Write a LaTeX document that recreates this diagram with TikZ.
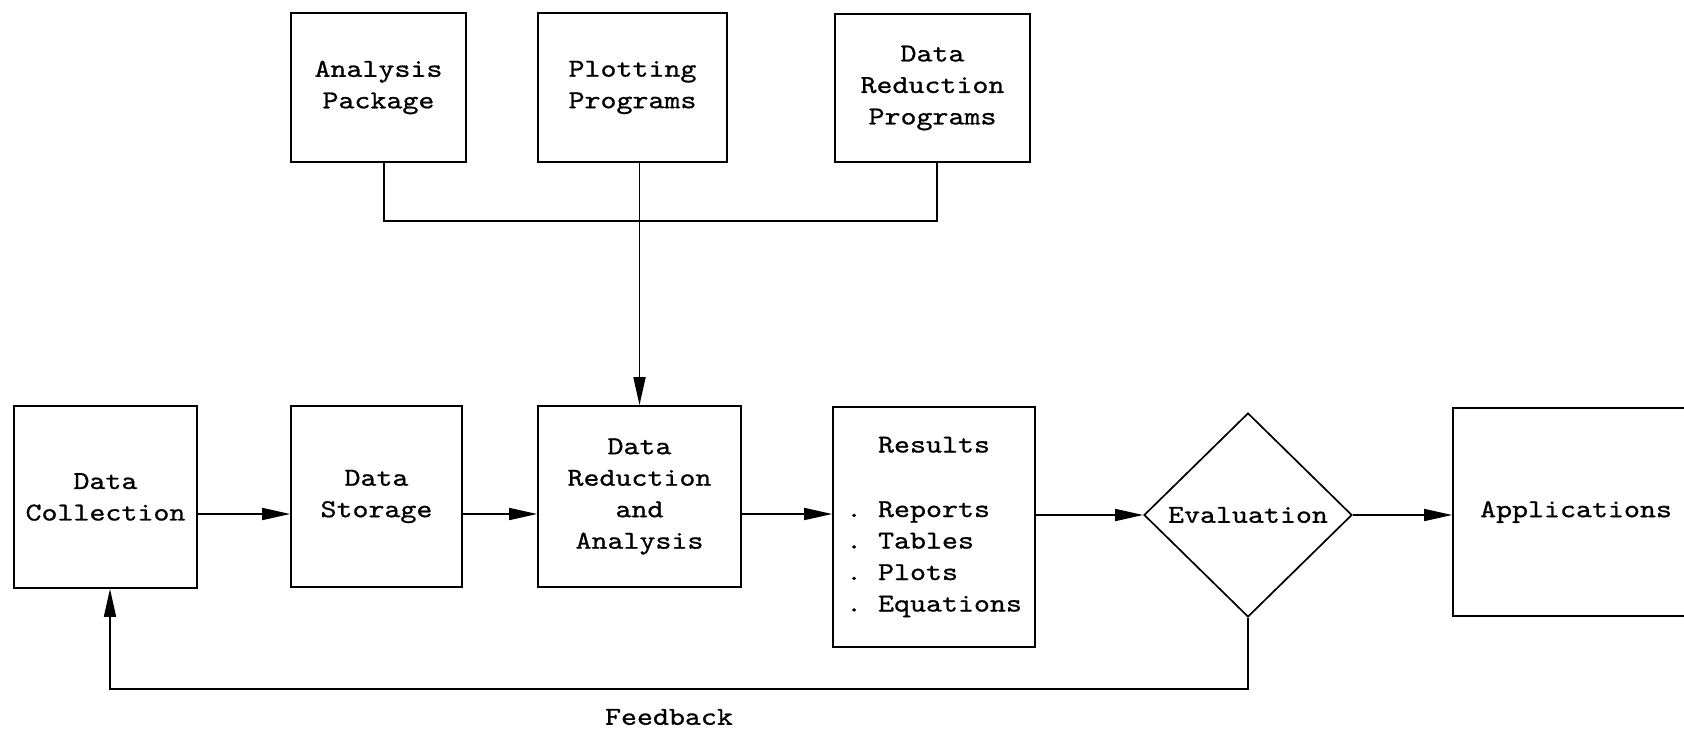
\documentclass[tikz,border=0pt]{standalone}
\usepackage{fontspec}
\newfontfamily\typer{lmmono10-regular.otf}[FakeStretch=1.18,FakeBold=0.8]
\usetikzlibrary{shapes.geometric,arrows.meta}

\begin{document}
\begin{tikzpicture}[x=1pt,y=-1pt,
  every node/.style={font=\typer\fontsize{25.8}{31.5}\selectfont},
  box/.style={draw, line width=1.7pt, inner sep=0pt, align=center},
  link/.style={line width=1.7pt},
  flow/.style={link, -{Triangle[length=28pt,width=12pt]}},
]
\useasboundingbox (0,0) rectangle (1684,730);
\clip (0,0) rectangle (1684,730);

% program library
\node[box, minimum width=175pt, minimum height=149pt] (ap)  at (378.5,87.5) {Analysis\\Package};
\node[box, minimum width=189pt, minimum height=149pt] (pp)  at (632.5,87.5) {Plotting\\Programs};
\node[box, minimum width=195pt, minimum height=148pt] (drp) at (932.5,88)   {Data\\Reduction\\Programs};

% main chain
\node[box, minimum width=183pt, minimum height=182pt] (dc)  at (105.5,497)  {Data\\Collection};
\node[box, minimum width=171pt, minimum height=181pt] (ds)  at (376.5,496.5) {Data\\Storage};
\node[box, minimum width=203pt, minimum height=181pt] (dra) at (639.5,496.5) {Data\\Reduction\\and\\Analysis};
\node[box, minimum width=202pt, minimum height=240pt, align=left] (res) at (934,527)
  {\phantom{.}~Results\\[33pt].~Reports\\.~Tables\\.~Plots\\.~Equations};
\node[box, shape=diamond, minimum width=208pt, minimum height=204pt] (ev) at (1248,515) {Evaluation};
\node[box, minimum width=246pt, minimum height=208pt] (app) at (1576,512) {Applications};

% bus joining the program library
\coordinate (busL) at (384,221);
\coordinate (busR) at (937,221);
\draw[link] (ap.south -| busL) -- (busL) -- (busR) -- (drp.south -| busR);
\draw[flow] (pp.south -| dra.north) -- (dra.north);

% flow along the chain
\coordinate (row) at (0,514);
\draw[flow] (dc.east |- row) -- (ds.west |- row);
\draw[flow] (ds.east |- row) -- (dra.west |- row);
\draw[flow] (dra.east |- row) -- (res.west |- row);
\draw[flow] (res.east |- ev.west) -- (ev.west);
\draw[flow] (ev.east) -- (app.west |- ev.east);

% feedback loop
\coordinate (fbL) at (110,689);
\draw[flow] (ev.south) |- (fbL) -- (fbL |- dc.south);
\node (fbtext) at (669,717) {Feedback};
\end{tikzpicture}
\end{document}
